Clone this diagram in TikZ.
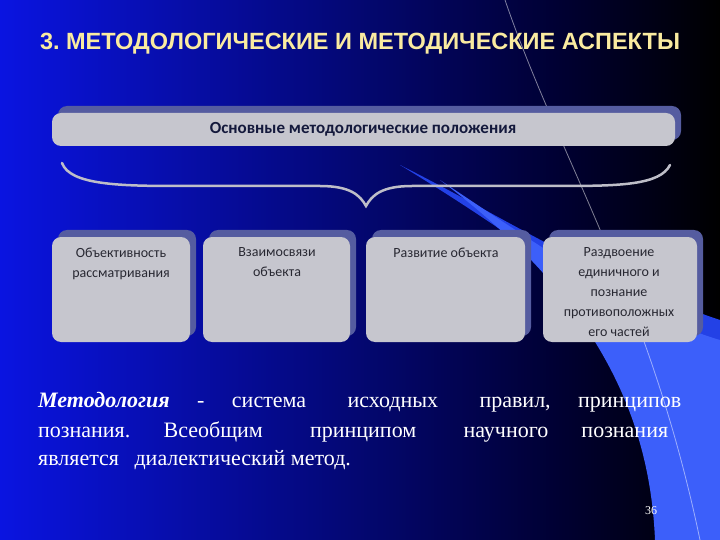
\documentclass[tikz,border=0pt]{standalone}
\usepackage{fontspec}
\setmainfont{Liberation Serif}
\newfontfamily\sansf{Carlito}
\newfontfamily\titlef{Liberation Sans}
\definecolor{bgl}{RGB}{10,20,225}
\definecolor{bgr}{RGB}{0,0,50}
\definecolor{band}{RGB}{60,95,250}
\definecolor{band2}{RGB}{35,65,230}
\definecolor{shc}{RGB}{85,92,160}
\definecolor{boxc}{RGB}{198,198,206}
\definecolor{btc}{RGB}{40,40,50}
\definecolor{hdc}{RGB}{20,25,60}
\definecolor{ttc}{RGB}{250,235,160}
\definecolor{brc}{RGB}{190,190,200}
\frenchspacing
\begin{document}
\begin{tikzpicture}[x=1pt,y=-1pt,
  shad/.style={fill=shc,rounded corners=9pt},
  box/.style={fill=boxc,rounded corners=9pt},
  btxt/.style={font=\sansf\fontsize{14}{20}\selectfont,text=btc,align=center,anchor=north},
  body/.style={font=\fontsize{22}{29}\selectfont,text=white,anchor=west,inner sep=0pt}]
\useasboundingbox (0,0) rectangle (720,540);
\shade[left color=bgl,right color=bgr] (0,0) rectangle (560,540);
\shade[left color=bgr,right color=black] (560,0) rectangle (720,540);
% decorative band
\fill[band2] (400,165) .. controls (500,215) and (600,280) .. (720,320) -- (720,400) .. controls (640,330) and (540,250) .. (400,165);
\fill[band] (440,180) .. controls (560,260) and (650,320) .. (720,340) -- (720,540) -- (655,540) .. controls (650,420) and (600,300) .. (440,180);
\draw[white,opacity=0.5,line width=0.8pt] (505,0) .. controls (560,160) and (650,300) .. (700,540);
% title
\node[font=\titlef\bfseries\fontsize{23.5}{26}\selectfont,text=ttc,inner sep=0pt] (title) at (360,44) {3.\ МЕТОДОЛОГИЧЕСКИЕ И МЕТОДИЧЕСКИЕ АСПЕКТЫ};
% header
\fill[shad] (58,106) rectangle (681,140);
\fill[box] (52,113) rectangle (675,146);
\node[font=\sansf\bfseries\fontsize{17}{20}\selectfont,text=hdc] (hdr) at (363,129) {Основные методологические положения};
% brace
\draw[brc,line width=2.5pt,line cap=round]
 (62,163) .. controls (70,185) and (120,186) .. (180,186) -- (320,186) .. controls (350,186) and (360,195) .. (366,206)
 .. controls (372,195) and (382,186) .. (412,186) -- (560,186) .. controls (620,186) and (660,185) .. (670,165);
% boxes
\foreach \a/\b in {52/190,203/350,366/525,543/697}{
  \fill[shad] (\a+6,230) rectangle (\b+6,336);
  \fill[box] (\a,237) rectangle (\b,342);
}
\node[btxt] (b1) at (121,244) {Объективность\\рассматривания};
\node[btxt] (b2) at (277,244) {Взаимосвязи\\объекта};
\node[btxt] (b3) at (446,244) {Развитие объекта};
\node[btxt] (b4) at (619,244) {Раздвоение\\единичного и\\познание\\противоположных\\его частей};
% body text
\node[body] (l1) at (38,402) {\makebox[643pt][s]{\textbf{\textit{Методология}} - система\hspace{14pt} исходных\hspace{14pt} правил,\ принципов}};
\node[body] (l2) at (38,432) {\makebox[630pt][s]{познания. Всеобщим\hspace{14pt} принципом\hspace{14pt} научного\ познания}};
\node[body] (l3) at (38,460) {является\hspace{10pt} диалектический\ метод.};
\node[font=\fontsize{12}{14}\selectfont,text=white] (pg) at (651,511) {36};
\end{tikzpicture}
\end{document}
